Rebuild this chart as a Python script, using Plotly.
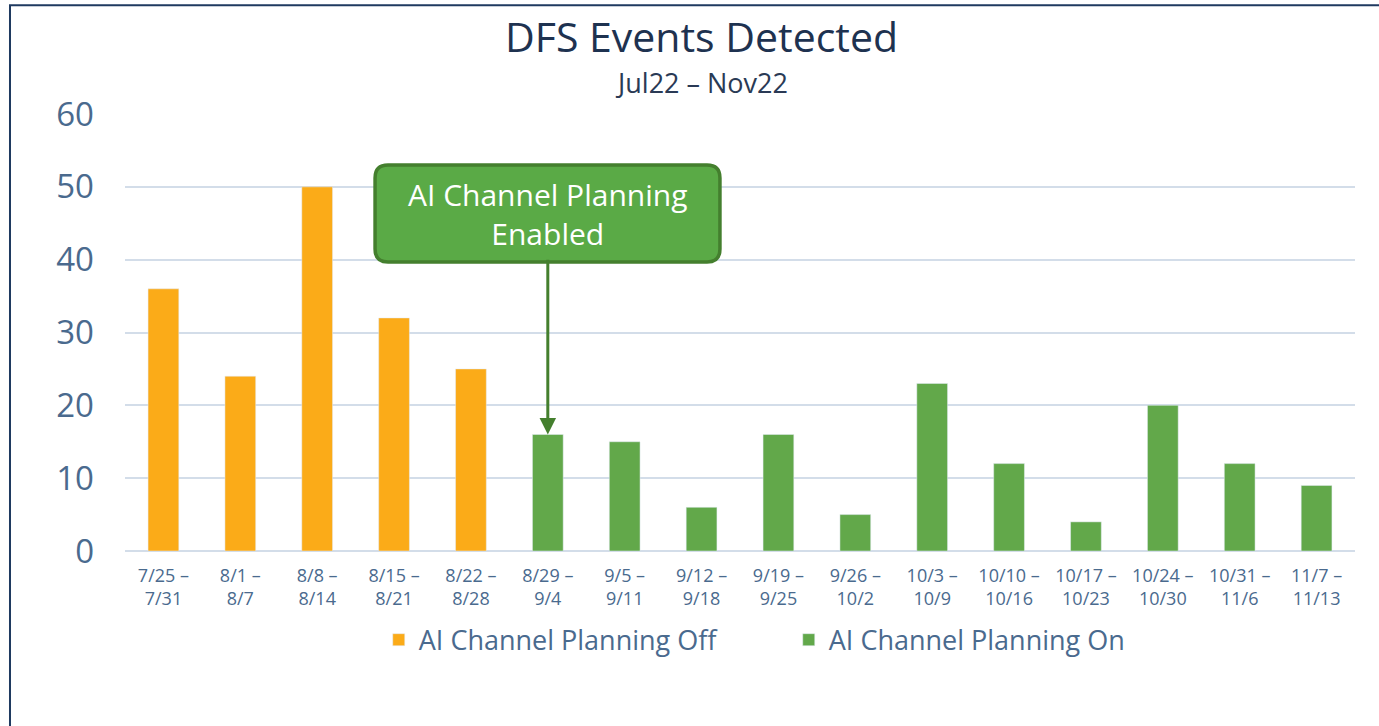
import plotly.graph_objects as go

semanas = ["7/25 –<br>7/31", "8/1 –<br>8/7", "8/8 –<br>8/14", "8/15 –<br>8/21",
           "8/22 –<br>8/28", "8/29 –<br>9/4", "9/5 –<br>9/11", "9/12 –<br>9/18",
           "9/19 –<br>9/25", "9/26 –<br>10/2", "10/3 –<br>10/9", "10/10 –<br>10/16",
           "10/17 –<br>10/23", "10/24 –<br>10/30", "10/31 –<br>11/6", "11/7 –<br>11/13"]
eventos_off = [36, 24, 50, 32, 25, None, None, None, None, None, None, None, None, None, None, None]
eventos_on = [None, None, None, None, None, 16, 15, 6, 16, 5, 23, 12, 4, 20, 12, 9]

NARANJA = "#fbab18"
VERDE = "#62a84a"
TEXTO = "#4a6a8e"
FUENTE = "Open Sans"

fig = go.Figure()
fig.add_trace(go.Bar(x=semanas, y=eventos_off, name="AI Channel Planning Off",
                     marker_color=NARANJA, width=0.4))
fig.add_trace(go.Bar(x=semanas, y=eventos_on, name="AI Channel Planning On",
                     marker_color=VERDE, width=0.4))

# caja redondeada del callout (coordenadas paper)
x0, x1, y0, y1 = 0.2033, 0.4837, 0.6613, 0.8833
rx, ry = 0.0105, 0.0295
caja = (f"M {x0+rx} {y1} L {x1-rx} {y1} Q {x1} {y1} {x1} {y1-ry} "
        f"L {x1} {y0+ry} Q {x1} {y0} {x1-rx} {y0} L {x0+rx} {y0} "
        f"Q {x0} {y0} {x0} {y0+ry} L {x0} {y1-ry} Q {x0} {y1} {x0+rx} {y1} Z")
fig.add_shape(type="path", path=caja, xref="paper", yref="paper",
              fillcolor="#5aaa46", line=dict(color="#447f2e", width=3.5))

# texto + flecha hacia la primera semana con planning
fig.add_annotation(
    x=semanas[5], y=eventos_on[5], xref="x", yref="y",
    ax=semanas[5], ay=46.3, axref="x", ayref="y",
    text="AI Channel Planning<br>Enabled",
    font=dict(family=FUENTE, size=30, color="white"),
    bgcolor="rgba(0,0,0,0)", borderwidth=0, borderpad=6,
    showarrow=True, arrowhead=2, arrowsize=1.1, arrowwidth=3, arrowcolor="#447f2e",
    standoff=0,
)

fig.add_annotation(text="DFS Events Detected", x=0.469, y=(551 - 36) / 437,
                   xref="paper", yref="paper", yanchor="middle", showarrow=False,
                   font=dict(family=FUENTE, size=41, color="#1e3250"))
fig.add_annotation(text="Jul22 – Nov22", x=0.469, y=(551 - 82) / 437, xref="paper", yref="paper",
                   yanchor="middle", showarrow=False,
                   font=dict(family=FUENTE, size=27, color="#2a3a55"))

# marco del grafico
fig.add_shape(type="rect", xref="paper", yref="paper",
              x0=-0.0935, x1=1.2, y0=-0.6, y1=1.249,
              line=dict(color="#1f3a60", width=2), layer="below")

fig.update_layout(
    width=1379, height=726,
    margin=dict(l=125, r=24, t=114, b=175, autoexpand=False),
    paper_bgcolor="white", plot_bgcolor="white",
    barmode="overlay",
    font=dict(family=FUENTE, color=TEXTO),
    showlegend=True,
    legend=dict(orientation="h", x=0.2063, xanchor="left", y=-0.204, yanchor="middle",
                font=dict(family=FUENTE, size=27, color=TEXTO), itemwidth=30,
                entrywidth=365, traceorder="normal"),
    xaxis=dict(type="category", tickfont=dict(size=18, color=TEXTO), showgrid=False,
               showline=False, ticks="", automargin=False, ticklabelstandoff=12),
    yaxis=dict(range=[0, 60], dtick=10, tickfont=dict(size=33, color=TEXTO),
               gridcolor="#d3dde9", gridwidth=2, zeroline=True, zerolinecolor="#d3dde9",
               zerolinewidth=2, ticklabelstandoff=30, showline=False, automargin=False),
)

fig.write_html("out.html", config={"displayModeBar": False},
               post_script="document.body.style.margin='0';")
